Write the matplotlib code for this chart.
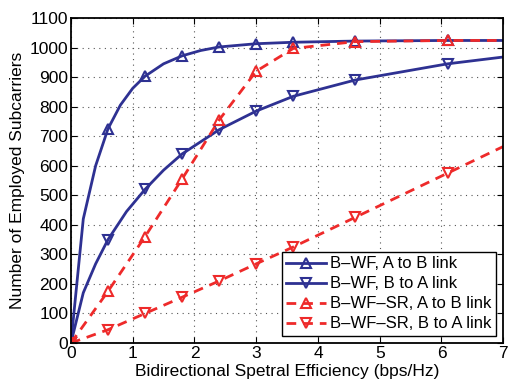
import matplotlib.pyplot as plt

plt.rcParams['font.family'] = ['Liberation Sans', 'DejaVu Sans']

# data
x_wf_ab = [0, 0.2, 0.4, 0.6, 0.8, 1.0, 1.2, 1.5, 1.8, 2.1, 2.4, 3.0, 3.6, 4.6, 6.1, 7.0]
y_wf_ab = [0, 420, 600, 725, 805, 862, 903, 945, 972, 990, 1002, 1013, 1018, 1022, 1024, 1024]
mk_wf_ab = [0, 3, 6, 8, 10, 11, 12, 13, 14]

x_wf_ba = [0, 0.2, 0.4, 0.6, 0.9, 1.2, 1.5, 1.8, 2.4, 3.0, 3.6, 4.6, 6.1, 7.0]
y_wf_ba = [0, 170, 268, 350, 445, 520, 585, 640, 722, 785, 835, 890, 945, 968]
mk_wf_ba = [0, 3, 5, 7, 8, 9, 10, 11, 12]

x_sr_ab = [0, 0.6, 1.2, 1.8, 2.4, 3.0, 3.6, 4.6, 6.1, 7.0]
y_sr_ab = [0, 175, 360, 555, 755, 920, 997, 1020, 1024, 1024]
mk_sr_ab = [0, 1, 2, 3, 4, 5, 6, 7, 8]

x_sr_ba = [0, 0.6, 1.2, 1.8, 2.4, 3.0, 3.6, 4.6, 6.1, 7.0]
y_sr_ba = [0, 45, 100, 155, 210, 268, 325, 425, 575, 665]
mk_sr_ba = [0, 1, 2, 3, 4, 5, 6, 7, 8]

blue = '#2e3192'
red = '#ee2a2a'
fs = 12.5

fig = plt.figure(figsize=(5.14, 3.81), dpi=100)
ax = fig.add_axes([0.138, 0.0997, 0.841, 0.853])

ax.plot(x_wf_ab, y_wf_ab, '-', color=blue, lw=2, marker='^', ms=7.5, mfc='none', mew=1.5,
        markevery=mk_wf_ab, label='B\u2013WF, A to B link')
ax.plot(x_wf_ba, y_wf_ba, '-', color=blue, lw=2, marker='v', ms=7.5, mfc='none', mew=1.5,
        markevery=mk_wf_ba, label='B\u2013WF, B to A link')
ax.plot(x_sr_ab, y_sr_ab, color=red, lw=2, dashes=(3.5, 2.5), marker='^', ms=7.5, mfc='none',
        mew=1.5, markevery=mk_sr_ab, label='B\u2013WF\u2013SR, A to B link')
ax.plot(x_sr_ba, y_sr_ba, color=red, lw=2, dashes=(3.5, 2.5), marker='v', ms=7.5, mfc='none',
        mew=1.5, markevery=mk_sr_ba, label='B\u2013WF\u2013SR, B to A link')

ax.set_xlim(0, 7)
ax.set_ylim(0, 1100)
ax.set_xticks(range(0, 8))
ax.set_yticks(range(0, 1101, 100))
ax.grid(True, linestyle=(0, (1, 4)), color='#555555', lw=0.8)
ax.tick_params(direction='in', labelsize=fs, top=True, right=True, length=4, pad=2)
for s in ax.spines.values():
    s.set_linewidth(1.3)

ax.set_xlabel('Bidirectional Spetral Efficiency (bps/Hz)', fontsize=fs, labelpad=2)
ax.set_ylabel('Number of Employed Subcarriers', fontsize=fs, labelpad=3)

leg = ax.legend(loc='lower right', fontsize=12, fancybox=False, framealpha=1,
                edgecolor='black', borderpad=0.25, labelspacing=0.3, handlelength=2.4,
                handletextpad=0.25, borderaxespad=0.45)
leg.get_frame().set_linewidth(1.0)

plt.savefig('out.png', dpi=100)
